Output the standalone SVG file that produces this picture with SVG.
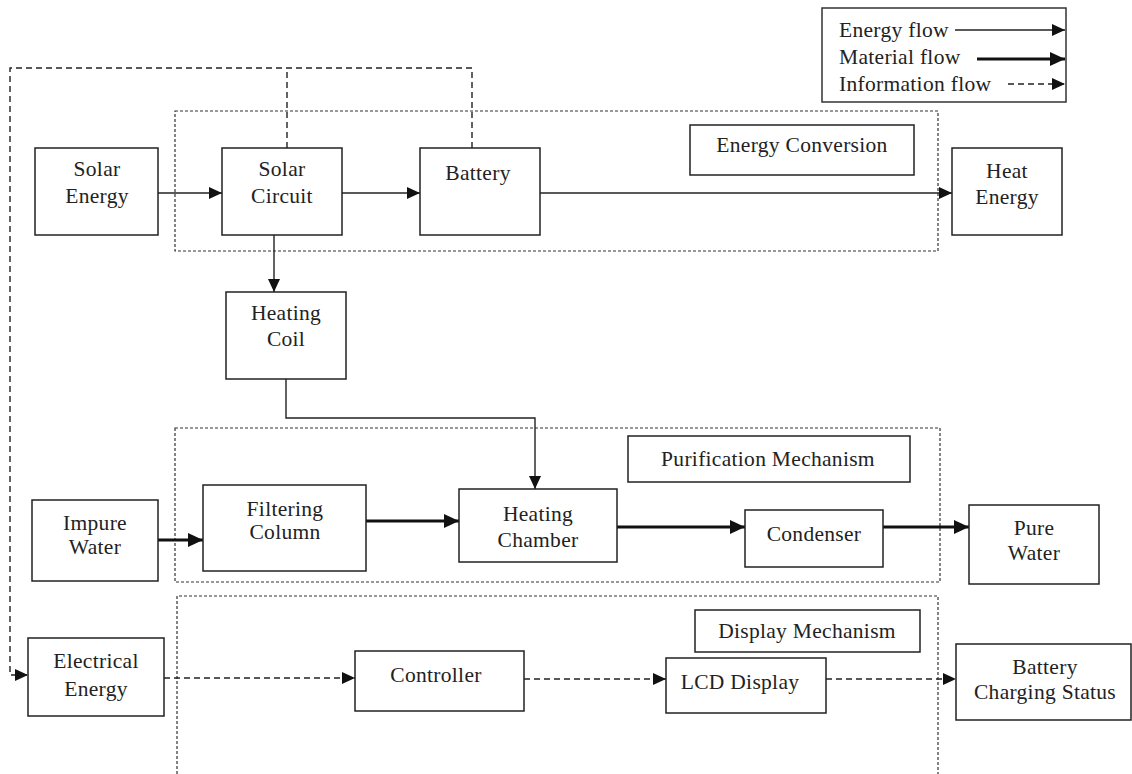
<svg xmlns="http://www.w3.org/2000/svg" width="1132" height="774" viewBox="0 0 1132 774">
<defs>
<style>
.box{fill:#fff;stroke:#222;stroke-width:1.5}
.grp{fill:none;stroke:#333;stroke-width:1.2;stroke-dasharray:3 2}
.t{font-family:"Liberation Serif","Times New Roman",serif;font-size:21.5px;letter-spacing:0.3px;fill:#222;text-anchor:middle}
.tl{font-family:"Liberation Serif","Times New Roman",serif;font-size:21.5px;letter-spacing:0.3px;fill:#222}
.en{fill:none;stroke:#222;stroke-width:1.4}
.mat{fill:none;stroke:#111;stroke-width:3}
.inf{fill:none;stroke:#222;stroke-width:1.4;stroke-dasharray:6 4}
</style>
<marker id="ah" markerUnits="userSpaceOnUse" markerWidth="14" markerHeight="12" refX="13" refY="6" orient="auto">
<path d="M0,0 L13,6 L0,12 Z" fill="#111"/>
</marker>
<marker id="ahm" markerUnits="userSpaceOnUse" markerWidth="16" markerHeight="14" refX="15" refY="7" orient="auto">
<path d="M0,0 L15,7 L0,14 Z" fill="#111"/>
</marker>
</defs>

<g id="legend">
<rect x="822" y="8" width="244" height="94" fill="#fff" stroke="#333" stroke-width="1.5"/>
<text class="tl" x="839" y="37">Energy flow</text>
<line class="en" x1="955" y1="30" x2="1065" y2="30" marker-end="url(#ah)"/>
<text class="tl" x="839" y="64">Material flow</text>
<line class="mat" x1="977" y1="59" x2="1065" y2="59" marker-end="url(#ahm)"/>
<text class="tl" x="839" y="91">Information flow</text>
<line class="inf" x1="1008" y1="84" x2="1065" y2="84" marker-end="url(#ah)"/>
</g>

<g id="group-energy-conversion">
<rect class="grp" x="175" y="111" width="763" height="140"/>
</g>
<g id="group-purification">
<rect class="grp" x="175" y="428" width="765" height="154"/>
</g>
<g id="group-display">
<path class="grp" d="M177,774 L177,596 L938,596 L938,774"/>
</g>

<g id="connectors">
<path class="inf" d="M287,148 L287,68 M472,148 L472,68 L10,68 L10,675 L28,675" marker-end="url(#ah)"/>
<line class="en" x1="158" y1="193" x2="222" y2="193" marker-end="url(#ah)"/>
<line class="en" x1="342" y1="193" x2="420" y2="193" marker-end="url(#ah)"/>
<line class="en" x1="540" y1="193" x2="952" y2="193" marker-end="url(#ah)"/>
<line class="en" x1="274" y1="235" x2="274" y2="292" marker-end="url(#ah)"/>
<path class="en" d="M286,379 L286,418 L535,418 L535,489" marker-end="url(#ah)"/>
<line class="mat" x1="158" y1="540" x2="203" y2="540" marker-end="url(#ahm)"/>
<line class="mat" x1="366" y1="521" x2="459" y2="521" marker-end="url(#ahm)"/>
<line class="mat" x1="617" y1="527" x2="745" y2="527" marker-end="url(#ahm)"/>
<line class="mat" x1="883" y1="527" x2="969" y2="527" marker-end="url(#ahm)"/>
<line class="inf" x1="164" y1="678" x2="355" y2="678" marker-end="url(#ah)"/>
<line class="inf" x1="524" y1="679" x2="666" y2="679" marker-end="url(#ah)"/>
<line class="inf" x1="826" y1="679" x2="956" y2="679" marker-end="url(#ah)"/>
</g>

<g id="label-energy-conversion">
<rect class="box" x="690" y="125" width="224" height="50"/>
<text class="t" x="802" y="152">Energy Conversion</text>
</g>
<g id="solar-energy">
<rect class="box" x="35" y="148" width="123" height="87"/>
<text class="t" x="97" y="176">Solar</text>
<text class="t" x="97" y="203">Energy</text>
</g>
<g id="solar-circuit">
<rect class="box" x="222" y="148" width="120" height="87"/>
<text class="t" x="282" y="176">Solar</text>
<text class="t" x="282" y="203">Circuit</text>
</g>
<g id="battery">
<rect class="box" x="420" y="148" width="120" height="87"/>
<text class="t" x="478" y="180">Battery</text>
</g>
<g id="heat-energy">
<rect class="box" x="952" y="148" width="110" height="87"/>
<text class="t" x="1007" y="178">Heat</text>
<text class="t" x="1007" y="204">Energy</text>
</g>
<g id="heating-coil">
<rect class="box" x="226" y="292" width="120" height="87"/>
<text class="t" x="286" y="320">Heating</text>
<text class="t" x="286" y="346">Coil</text>
</g>

<g id="label-purification">
<rect class="box" x="628" y="436" width="282" height="46"/>
<text class="t" x="768" y="466">Purification Mechanism</text>
</g>
<g id="impure-water">
<rect class="box" x="32" y="500" width="126" height="81"/>
<text class="t" x="95" y="530">Impure</text>
<text class="t" x="95" y="554">Water</text>
</g>
<g id="filtering-column">
<rect class="box" x="203" y="485" width="163" height="86"/>
<text class="t" x="285" y="516">Filtering</text>
<text class="t" x="285" y="539">Column</text>
</g>
<g id="heating-chamber">
<rect class="box" x="459" y="489" width="158" height="73"/>
<text class="t" x="538" y="521">Heating</text>
<text class="t" x="538" y="547">Chamber</text>
</g>
<g id="condenser">
<rect class="box" x="745" y="510" width="138" height="57"/>
<text class="t" x="814" y="541">Condenser</text>
</g>
<g id="pure-water">
<rect class="box" x="969" y="505" width="130" height="79"/>
<text class="t" x="1034" y="535">Pure</text>
<text class="t" x="1034" y="560">Water</text>
</g>

<g id="label-display">
<rect class="box" x="695" y="610" width="225" height="42"/>
<text class="t" x="807" y="638">Display Mechanism</text>
</g>
<g id="electrical-energy">
<rect class="box" x="28" y="638" width="136" height="78"/>
<text class="t" x="96" y="668">Electrical</text>
<text class="t" x="96" y="696">Energy</text>
</g>
<g id="controller">
<rect class="box" x="355" y="651" width="169" height="60"/>
<text class="t" x="436" y="682">Controller</text>
</g>
<g id="lcd-display">
<rect class="box" x="666" y="658" width="160" height="55"/>
<text class="t" x="740" y="689">LCD Display</text>
</g>
<g id="battery-charging-status">
<rect class="box" x="956" y="644" width="175" height="76"/>
<text class="t" x="1045" y="674">Battery</text>
<text class="t" x="1045" y="699">Charging Status</text>
</g>
</svg>
